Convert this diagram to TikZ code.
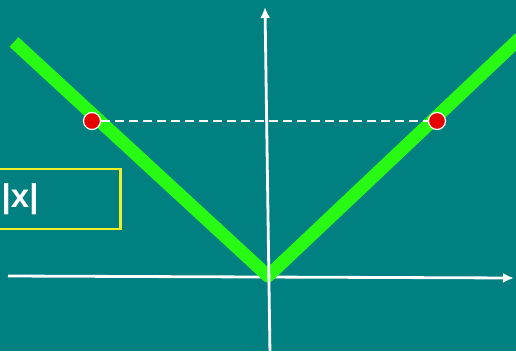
\documentclass[tikz,border=0pt]{standalone}
\usepackage{fontspec}
\setmainfont{Liberation Sans}
\usetikzlibrary{arrows.meta}
\definecolor{bg}{RGB}{0,128,128}
\definecolor{lime}{RGB}{40,250,20}
\definecolor{ybox}{RGB}{240,240,40}
\definecolor{dotred}{RGB}{230,0,0}
\begin{document}
\begin{tikzpicture}[x=1pt,y=-1pt,
  axis/.style={white,line width=2.8pt,-{Latex[length=11pt,width=10pt]}},
  graph/.style={lime,line width=13pt},
  dot/.style={circle,fill=dotred,draw=white,line width=1.2pt,minimum size=17pt,inner sep=0pt},
  label/.style={draw=ybox,line width=2.5pt,minimum width=141pt,minimum height=60pt,text=white,font=\bfseries\fontsize{33}{33}\selectfont,anchor=west,text width=120pt,align=left,inner sep=4pt}]
\fill[bg] (0,0) rectangle (516,351);
\useasboundingbox (0,0) rectangle (516,351);
\begin{scope}
\clip (0,0) rectangle (516,351);
\coordinate (xl) at (8,276);
\coordinate (xr) at (514,278);
\coordinate (yb) at (270,355);
\coordinate (yt) at (265,7);
\draw[axis] (xl) -- (xr);
\coordinate (L) at (14,42);
\coordinate (V) at (268,276);
\coordinate (R) at (520,38);
\draw[graph,line join=round] (L) -- (V) -- (R);
\draw[axis] (yb) -- (yt);
\node[dot] (p1) at (92,121) {};
\node[dot] (p2) at (437,121) {};
\draw[white,line width=1.5pt,dash pattern=on 9pt off 5pt] (p1) -- (p2);
\node[label] (box) at (-22,199) {\hspace*{12pt}|x|};
\end{scope}
\end{tikzpicture}
\end{document}
